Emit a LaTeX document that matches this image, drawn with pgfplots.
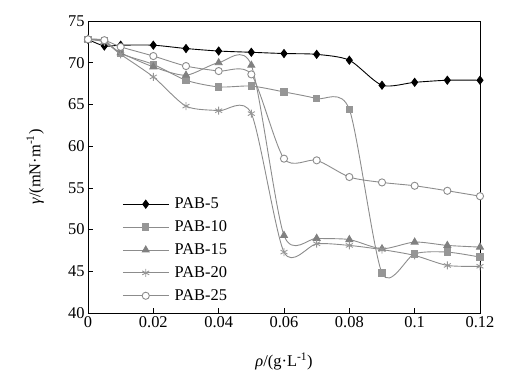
\documentclass[border=0pt]{standalone}
\usepackage{fontspec}
\setmainfont{Liberation Serif}
\usepackage{pgfplots}
\pgfplotsset{compat=1.18}
\definecolor{lgray}{RGB}{150,150,150}
\definecolor{mgray}{RGB}{128,128,128}
\definecolor{lnray}{RGB}{140,140,140}
\newcommand{\fs}{\fontsize{16.5}{19}\selectfont}
\begin{document}
\begin{tikzpicture}
\useasboundingbox (-88bp,-66bp) rectangle (438bp,313bp);
\begin{axis}[
  at={(0,0)}, anchor=south west,
  scale only axis, width=392bp, height=292bp,
  xmin=0, xmax=0.12, ymin=40, ymax=75,
  xtick={0,0.02,0.04,0.06,0.08,0.1,0.12},
  xticklabels={0,0.02,0.04,0.06,0.08,0.1,0.12},
  ytick={40,45,50,55,60,65,70,75},
  yticklabels={40,45,50,55,60,65,70,75},
  scaled x ticks=false,
  xtick pos=bottom, ytick pos=left,
  tick align=inside,
  major tick length=5bp,
  axis line style={line width=0.9pt},
  tick style={line width=0.7pt, black},
  tick label style={font=\fs},
  label style={font=\fs},
  xlabel={\textit{ρ}/(g·L\textsuperscript{-1})},
  ylabel={\textit{γ}/(mN·m\textsuperscript{-1})},
  xlabel style={at={(axis description cs:0.5,-0.165)}, anchor=center},
  ylabel style={at={(axis description cs:-0.135,0.5)}, anchor=center},
  clip mode=individual,
  legend cell align=left,
  legend style={at={(0.087,0.032)}, anchor=south west, draw=none, fill=none,
    font=\fs, inner sep=0pt, row sep=7.5bp,
    nodes={inner sep=1.5bp},
    /tikz/every odd column/.append style={column sep=4bp}},
  legend image code/.code={\draw[mark repeat=2,mark phase=2] plot coordinates {(0bp,0bp)(23bp,0bp)(46bp,0bp)};},
  every axis plot/.append style={line width=0.9pt, smooth, tension=0.45},
]
\addplot[black, mark=diamond*, mark size=4pt, mark options={fill=black, solid}] coordinates {
(0,72.8)(0.005,72.0)(0.01,72.1)(0.02,72.1)(0.03,71.7)(0.04,71.4)(0.05,71.25)(0.06,71.1)(0.07,71.0)(0.08,70.3)(0.09,67.3)(0.1,67.65)(0.11,67.9)(0.12,67.9)};
\addlegendentry{PAB-5}
\addplot[lnray, mark=square*, mark size=3.2pt, mark options={fill=lgray, draw=lgray}] coordinates {
(0,72.8)(0.005,72.7)(0.01,71.1)(0.02,69.8)(0.03,67.9)(0.04,67.1)(0.05,67.2)(0.06,66.5)(0.07,65.7)(0.08,64.4)(0.09,44.8)(0.1,47.1)(0.11,47.3)(0.12,46.7)};
\addlegendentry{PAB-10}
\addplot[lnray, mark=triangle*, mark size=4pt, mark options={fill=mgray, draw=mgray}] coordinates {
(0,72.8)(0.005,72.5)(0.01,71.2)(0.02,69.5)(0.03,68.5)(0.04,70.0)(0.05,69.7)(0.06,49.3)(0.07,48.95)(0.08,48.8)(0.09,47.7)(0.1,48.5)(0.11,48.1)(0.12,47.9)};
\addlegendentry{PAB-15}
\addplot[lnray, mark=asterisk, mark size=4pt, mark options={draw=lgray}] coordinates {
(0,72.8)(0.005,72.5)(0.01,71.0)(0.02,68.3)(0.03,64.8)(0.04,64.25)(0.05,63.9)(0.06,47.3)(0.07,48.3)(0.08,48.1)(0.09,47.6)(0.1,46.9)(0.11,45.7)(0.12,45.6)};
\addlegendentry{PAB-20}
\addplot[lnray, mark=*, mark size=3.6pt, mark options={fill=white, draw=lnray}] coordinates {
(0,72.8)(0.005,72.7)(0.01,71.9)(0.02,70.8)(0.03,69.6)(0.04,69.0)(0.05,68.6)(0.06,58.5)(0.07,58.3)(0.08,56.3)(0.09,55.65)(0.1,55.25)(0.11,54.65)(0.12,54.0)};
\addlegendentry{PAB-25}
\end{axis}
\end{tikzpicture}
\end{document}
